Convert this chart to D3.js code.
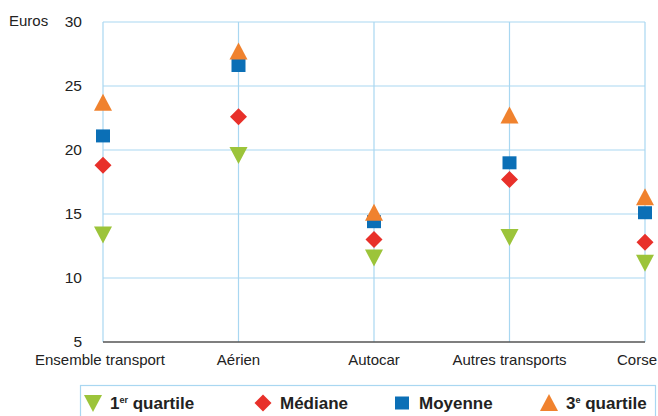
<!DOCTYPE html>
<html>
<head>
<meta charset="utf-8">
<script src="https://cdn.jsdelivr.net/npm/d3@7"></script>
<style>
  body { margin: 0; background: #fff; }
  svg { font-family: "Liberation Sans", Arial, sans-serif; }
</style>
</head>
<body>
<div id="chart"></div>
<script>
// categories + series
var categories = ['Ensemble transport', 'Aérien', 'Autocar', 'Autres transports', 'Corse'];
var quartile1 = [13.4, 19.6, 11.6, 13.2, 11.2];
var mediane   = [18.8, 22.6, 13.0, 17.7, 12.8];
var moyenne   = [21.1, 26.6, 14.4, 19.0, 15.1];
var quartile3 = [23.7, 27.7, 15.1, 22.7, 16.3];
var yTicks = [5, 10, 15, 20, 25, 30];

var series = [
  {name: '1er quartile', values: quartile1, shape: 'down',    color: '#9cc43a'},
  {name: 'Médiane',      values: mediane,   shape: 'diamond', color: '#e8302a'},
  {name: 'Moyenne',      values: moyenne,   shape: 'square',  color: '#0b6fb6'},
  {name: '3e quartile',  values: quartile3, shape: 'up',      color: '#f0822e'}
];

var width = 658, height = 416;
// (window.top is reserved, so plot bounds get their own names)
var plotLeft = 103, plotRight = 645, plotTop = 22, plotBottom = 342;
var gridColor = '#a9d7f1';

var svg = d3.select('#chart')
  .append('svg')
  .attr('width', width)
  .attr('height', height);

var x = d3.scalePoint().domain(categories).range([plotLeft, plotRight]).padding(0);
var y = d3.scaleLinear().domain([5, 30]).range([plotBottom, plotTop]);

// horizontal grid
svg.selectAll('.hgrid')
  .data(yTicks.filter(function(d){ return d > 5; }))
  .enter()
  .append('line')
  .attr('x1', plotLeft).attr('x2', plotRight)
  .attr('y1', function(d){ return y(d); })
  .attr('y2', function(d){ return y(d); })
  .attr('stroke', gridColor)
  .attr('stroke-width', 1.2);

// vertical grid
svg.selectAll('.vgrid')
  .data(categories)
  .enter()
  .append('line')
  .attr('x1', function(d){ return x(d); })
  .attr('x2', function(d){ return x(d); })
  .attr('y1', plotTop).attr('y2', plotBottom)
  .attr('stroke', gridColor)
  .attr('stroke-width', 1.2);

// bottom axis line
svg.append('line')
  .attr('x1', plotLeft).attr('x2', plotRight)
  .attr('y1', plotBottom).attr('y2', plotBottom)
  .attr('stroke', '#555')
  .attr('stroke-width', 1.5);

// y tick labels
svg.selectAll('.ylab')
  .data(yTicks)
  .enter()
  .append('text')
  .attr('x', 82)
  .attr('y', function(d){ return y(d); })
  .attr('dy', '0.35em')
  .attr('text-anchor', 'end')
  .attr('font-size', '15.5px')
  .attr('fill', '#222')
  .text(function(d){ return d; });

svg.append('text')
  .attr('x', 9).attr('y', 21)
  .attr('dy', '0.35em')
  .attr('font-size', '15px')
  .attr('fill', '#222')
  .text('Euros');

// category labels
svg.selectAll('.xlab')
  .data(categories)
  .enter()
  .append('text')
  .attr('x', function(d, i){ return i === 0 ? 100 : (i === categories.length - 1 ? 637 : x(d)); })
  .attr('y', 360)
  .attr('dy', '0.35em')
  .attr('text-anchor', 'middle')
  .attr('font-size', '15px')
  .attr('fill', '#222')
  .text(function(d){ return d; });

function shapePath(shape, cx, cy) {
  if (shape === 'down') {
    return 'M' + (cx - 9) + ',' + (cy - 8) + 'L' + (cx + 9) + ',' + (cy - 8) + 'L' + cx + ',' + (cy + 9) + 'Z';
  }
  if (shape === 'up') {
    return 'M' + (cx - 9) + ',' + (cy + 8) + 'L' + (cx + 9) + ',' + (cy + 8) + 'L' + cx + ',' + (cy - 9) + 'Z';
  }
  if (shape === 'diamond') {
    return 'M' + cx + ',' + (cy - 8.5) + 'L' + (cx + 8.5) + ',' + cy + 'L' + cx + ',' + (cy + 8.5) + 'L' + (cx - 8.5) + ',' + cy + 'Z';
  }
  return 'M' + (cx - 7) + ',' + (cy - 6.5) + 'h14v13h-14Z';
}

// markers
series.forEach(function(s) {
  svg.selectAll('.m-' + s.shape)
    .data(s.values)
    .enter()
    .append('path')
    .attr('d', function(d, i){ return shapePath(s.shape, x(categories[i]), y(d)); })
    .attr('fill', s.color);
});

// legend
svg.append('rect')
  .attr('x', 80.5).attr('y', 385.5)
  .attr('width', 575).attr('height', 40)
  .attr('fill', 'none')
  .attr('stroke', gridColor)
  .attr('stroke-width', 1.2);

var legendX = [93, 263, 402, 549];
var legendText = [
  [['1', ''], ['er', 'sup'], [' quartile', '']],
  [['Médiane', '']],
  [['Moyenne', '']],
  [['3', ''], ['e', 'sup'], [' quartile', '']]
];
var ly = 403;

series.forEach(function(s, i) {
  svg.append('path')
    .attr('d', shapePath(s.shape, legendX[i], ly))
    .attr('fill', s.color);

  var t = svg.append('text')
    .attr('x', legendX[i] + 17)
    .attr('y', ly)
    .attr('dy', '0.35em')
    .attr('font-size', '17px')
    .attr('font-weight', 'bold')
    .attr('fill', '#222');

  legendText[i].forEach(function(part) {
    var ts = t.append('tspan').text(part[0]);
    if (part[1] === 'sup') {
      ts.attr('font-size', '9px').attr('dy', '-6');
    } else if (t.selectAll('tspan').size() > 1) {
      ts.attr('dy', '6');
    }
  });
});
</script>
</body>
</html>
